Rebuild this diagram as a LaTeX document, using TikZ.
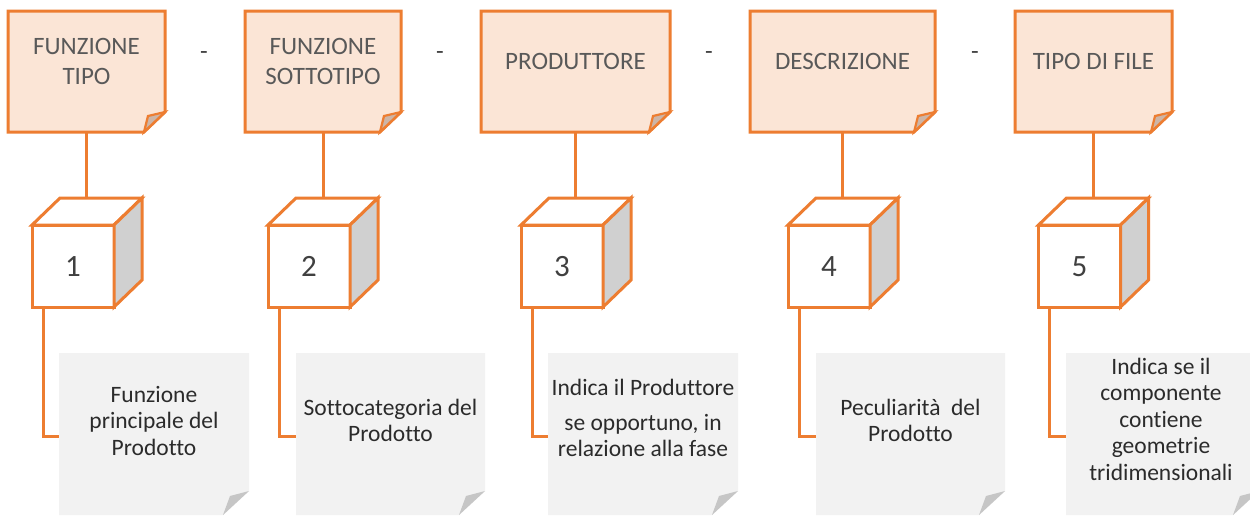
\documentclass[tikz,border=0pt]{standalone}
\usepackage{fontspec}
\setmainfont[Ligatures=NoCommon]{Carlito}
\definecolor{orng}{HTML}{ED7D31}
\definecolor{peach}{HTML}{FBE5D6}
\definecolor{foldtan}{HTML}{CDB5A7}
\definecolor{notegray}{HTML}{F2F2F2}
\definecolor{foldgray}{HTML}{C6C6C6}
\definecolor{cubeside}{HTML}{D0D0D0}
\definecolor{txtA}{HTML}{595959}
\definecolor{txtB}{HTML}{404040}
\definecolor{txtC}{HTML}{2B2B2B}
\tikzset{
  framebox/.style={draw=none, inner sep=0, outer sep=0, minimum height=121},
  cubebox/.style={draw=none, inner sep=0, outer sep=0, minimum size=82},
  graybox/.style={draw=none, inner sep=0, outer sep=0, minimum height=162},
  oline/.style={draw=orng, line width=3pt, line join=miter},
  shadelayer/.style={fill=black, opacity=0.045},
  toptext/.style={anchor=base, inner sep=0, text=txtA, font=\fontsize{25}{30}\selectfont},
  numtext/.style={anchor=base, inner sep=0, text=txtB, font=\fontsize{31}{36}\selectfont},
  graytext/.style={anchor=base, inner sep=0, text=txtC, font=\fontsize{23.5}{26.5}\selectfont},
  dashtext/.style={anchor=base, inner sep=0, text=txtB, font=\fontsize{25}{30}\selectfont},
  conn/.style={draw=orng, line width=3pt}
}
\newcommand\TopNote[4]{%
  \node[framebox, minimum width=#3] (#1) at (#2,71.5) {};
  \foreach \k in {2,4,6}{
    \fill[shadelayer, shift={(\k,\k)}] (#1.north west) -- (#1.north east) -- ([yshift=20pt]#1.south east) -- ([xshift=-21pt]#1.south east) -- (#1.south west) -- cycle;}
  \path[oline, fill=peach] (#1.north west) -- (#1.north east) -- ([yshift=20pt]#1.south east) -- ([xshift=-21pt]#1.south east) -- (#1.south west) -- cycle;
  \path[oline, fill=foldtan, line width=2.2pt] ([yshift=20pt]#1.south east) -- ([xshift=-17pt,yshift=16pt]#1.south east) -- ([xshift=-21pt]#1.south east) -- cycle;
  \node[toptext] (#1t) at (#2,#4) {\begin{tabular}[t]{@{}c@{}}\csname txt#1\endcsname\end{tabular}};
}
\newcommand\CubeBox[3]{%
  \node[cubebox] (#1) at (#2,266) {};
  \foreach \k in {2,4,6}{
    \fill[shadelayer, shift={(\k,\k)}] (#1.south west) -- (#1.north west) -- ++(28,-27) -- ++(82,0) -- ++(0,82) -- (#1.south east) -- cycle;}
  \path[oline, fill=white] (#1.south west) rectangle (#1.north east);
  \path[oline, fill=white] (#1.north west) -- ++(28,-27) -- ++(82,0) -- (#1.north east) -- cycle;
  \path[oline, fill=cubeside] (#1.north east) -- ++(28,-27) -- ++(0,82) -- (#1.south east) -- cycle;
  \coordinate (#1k) at ([xshift=28pt,yshift=27pt]#1.north east);
  \node[numtext] (#1n) at (#2,276) {#3};
}
\newcommand\GrayNote[3]{%
  \node[graybox, minimum width=#3] (#1) at (#2,434) {};
  \fill[notegray] (#1.north west) -- (#1.north east) -- ([yshift=24pt]#1.south east) -- ([xshift=-26pt]#1.south east) -- (#1.south west) -- cycle;
  \fill[foldgray] ([yshift=24pt]#1.south east) -- ([xshift=-19pt,yshift=19pt]#1.south east) -- ([xshift=-26pt]#1.south east) -- cycle;
}
\def\txtna{FUNZIONE\\TIPO}
\def\txtnb{FUNZIONE\\SOTTOTIPO}
\def\txtnc{PRODUTTORE}
\def\txtnd{DESCRIZIONE}
\def\txtne{TIPO DI FILE}
\begin{document}
\begin{tikzpicture}[x=1pt, y=-1pt]
\useasboundingbox (0,0) rectangle (1250,515);
\fill[white] (0,0) rectangle (1250,515);

% top notes
\TopNote{na}{86.5}{157}{54}
\TopNote{nb}{323}{156}{54}
\TopNote{nc}{575.5}{189}{69}
\TopNote{nd}{842.5}{185}{69}
\TopNote{ne}{1093.5}{157}{69}

% separators
\node[dashtext] (s1) at (204,59) {-};
\node[dashtext] (s2) at (440,59) {-};
\node[dashtext] (s3) at (709,59) {-};
\node[dashtext] (s4) at (975,59) {-};

% gray notes
\GrayNote{ga}{154}{190}
\GrayNote{gb}{390.5}{189}
\GrayNote{gc}{643}{190}
\GrayNote{gd}{910.5}{189}
\GrayNote{ge}{1162.5}{193}

% cubes
\CubeBox{ca}{73}{1}
\CubeBox{cb}{309}{2}
\CubeBox{cc}{562}{3}
\CubeBox{cd}{829}{4}
\CubeBox{ce}{1079.5}{5}

% connectors from top notes to cubes
\draw[conn] (na.south) -- (na.south |- cak);
\draw[conn] (nb.south) -- (nb.south |- cbk);
\draw[conn] (nc.south) -- (nc.south |- cck);
\draw[conn] (nd.south) -- (nd.south |- cdk);
\draw[conn] (ne.south) -- (ne.south |- cek);

% connectors from cubes to gray notes
\draw[conn] ([xshift=11pt]ca.south west) |- ([yshift=-2pt]ga.west);
\draw[conn] ([xshift=11pt]cb.south west) |- ([yshift=-2pt]gb.west);
\draw[conn] ([xshift=11pt]cc.south west) |- ([yshift=-2pt]gc.west);
\draw[conn] ([xshift=11pt]cd.south west) |- ([yshift=-2pt]gd.west);
\draw[conn] ([xshift=11pt]ce.south west) |- ([yshift=-2pt]ge.west);

% gray note texts
\node[graytext] (ta) at (154,402) {\begin{tabular}[t]{@{}c@{}}Funzione\\principale del\\Prodotto\end{tabular}};
\node[graytext] (tb) at (390.5,415) {\begin{tabular}[t]{@{}c@{}}Sottocategoria del\\Prodotto\end{tabular}};
\node[graytext] (tc) at (643,395) {\begin{tabular}[t]{@{}c@{}}Indica il Produttore\\[8.5pt]se opportuno, in\\relazione alla fase\end{tabular}};
\node[graytext] (td) at (910.5,415) {\begin{tabular}[t]{@{}c@{}}Peculiarità\ \ del\\Prodotto\end{tabular}};
\node[graytext] (te) at (1161,374) {\begin{tabular}[t]{@{}c@{}}Indica se il\\componente\\contiene\\geometrie\\tridimensionali\end{tabular}};
\end{tikzpicture}
\end{document}
